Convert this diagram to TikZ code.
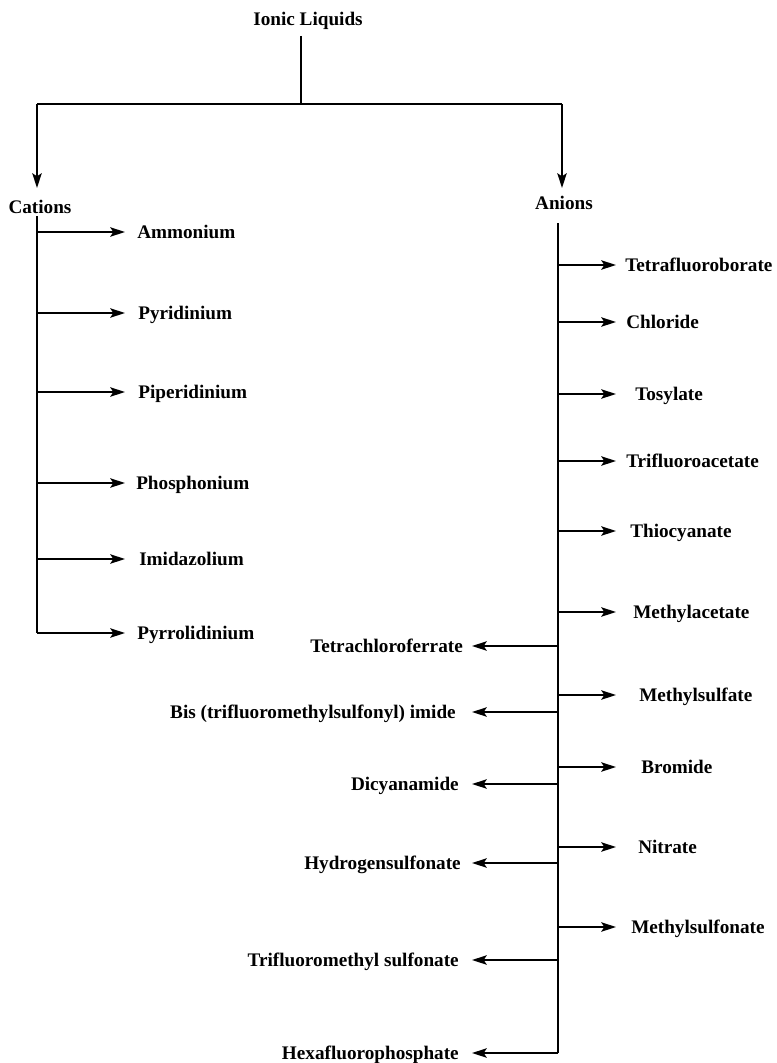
\documentclass[tikz,border=0pt]{standalone}
\usepackage{fontspec}
\setmainfont{Liberation Serif}
\usetikzlibrary{arrows.meta}
\begin{document}
\begin{tikzpicture}[x=0.75pt,y=-0.75pt,
  line/.style={line width=1.6pt},
  arr/.style={line,-{Stealth[length=11pt,width=7pt,inset=2.2pt]}},
  lab/.style={font=\fontsize{14.4}{17}\selectfont\bfseries,inner sep=0pt}]
\useasboundingbox (0,0) rectangle (777,1063);
% top
\node[lab,anchor=base] (il) at (308,26) {Ionic Liquids};
\coordinate (iltop) at (301,36);
\coordinate (hub) at (301,104);
\coordinate (lc) at (37,104);
\coordinate (rc) at (562,104);
\node[lab,anchor=base] (cat) at (40,213) {Cations};
\node[lab,anchor=base] (an) at (564,209) {Anions};
\draw[line] (iltop) -- (hub);
\draw[line] (lc) -- (rc);
\draw[arr] (lc) -- (lc |- 0,188);
\draw[arr] (rc) -- (rc |- 0,188);
% cations
\coordinate (cs) at (37,216);
\coordinate (ce) at (37,633);
\coordinate (ctip) at (125,0);
\draw[line] (cs) -- (ce);
\foreach \i/\y/\x/\t in {1/232/137/Ammonium,2/313/138/Pyridinium,3/392/138/Piperidinium,4/483/136/Phosphonium,5/559/139/Imidazolium,6/633/137/Pyrrolidinium}{
  \node[lab,anchor=base west] (c\i) at (\x,\y+6) {\t};
  \coordinate (cb\i) at (37,\y);
  \draw[arr] (cb\i) -- (cb\i -| ctip);
}
% anions
\coordinate (as) at (558,223);
\coordinate (ae) at (558,1053);
\coordinate (rtip) at (616,0);
\coordinate (ltip) at (472,0);
\draw[line] (as) -- (ae);
\foreach \i/\y/\x/\t in {1/265/625/Tetrafluoroborate,2/322/626/Chloride,3/394/635/Tosylate,4/461/626/Trifluoroacetate,5/531/630/Thiocyanate,6/612/633/Methylacetate,7/695/639/Methylsulfate,8/767/641/Bromide,9/847/638/Nitrate,10/927/631/Methylsulfonate}{
  \node[lab,anchor=base west] (r\i) at (\x,\y+6) {\t};
  \coordinate (rb\i) at (558,\y);
  \draw[arr] (rb\i) -- (rb\i -| rtip);
}
\foreach \i/\y/\x/\t in {1/646/463/Tetrachloroferrate,2/712/456/{Bis (trifluoromethylsulfonyl) imide},3/784/459/Dicyanamide,4/863/461/Hydrogensulfonate,5/960/459/Trifluoromethyl sulfonate,6/1053/459/Hexafluorophosphate}{
  \node[lab,anchor=base east] (l\i) at (\x,\y+6) {\t};
  \coordinate (lb\i) at (558,\y);
  \draw[arr] (lb\i) -- (lb\i -| ltip);
}
\end{tikzpicture}
\end{document}
